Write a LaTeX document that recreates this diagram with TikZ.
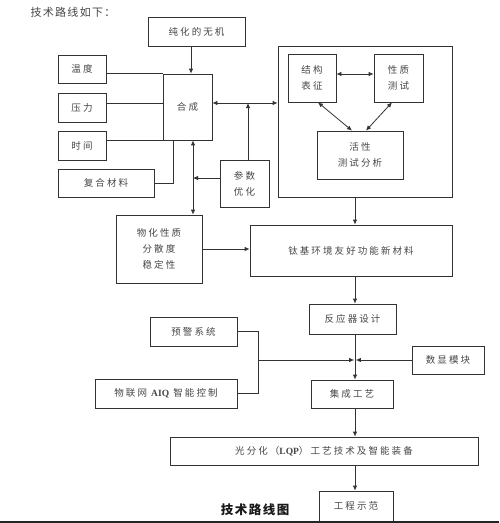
\documentclass[tikz,border=0pt]{standalone}
\usepackage{fontspec}
\setmainfont{Liberation Serif}
\newfontfamily\cjk[LetterSpace=22]{Noto Sans CJK SC}
\newfontfamily\cjktitle[LetterSpace=12]{Noto Sans CJK SC}
\usetikzlibrary{arrows.meta}
\begin{document}
\begin{tikzpicture}[x=1pt,y=-1pt,
  box/.style={draw=black!80, line width=0.8pt, fill=white, inner sep=0pt, align=center,
    text=black!72, font=\cjk\fontsize{9.5}{16}\selectfont},
  ln/.style={draw=black!80, line width=0.8pt},
  arr/.style={ln, -{Latex[length=5pt,width=4.5pt]}},
  arrb/.style={ln, {Latex[length=5pt,width=4.5pt]}-{Latex[length=5pt,width=4.5pt]}}]
\useasboundingbox (0,0) rectangle (499,523);
\fill[white] (0,0) rectangle (499,523);

% title
\node[anchor=west, text=black!72, font=\cjktitle\fontsize{11}{13}\selectfont] (title) at (27,12) {技术路线如下：};

% boxes
\node[box, minimum width=97, minimum height=29] (chun) at (196.5,31.5) {纯化的无机};
\node[box, minimum width=48, minimum height=28] (wendu) at (82,69) {温度};
\node[box, minimum width=48, minimum height=29] (yali) at (82,107.5) {压力};
\node[box, minimum width=48, minimum height=29] (shijian) at (82,145.5) {时间};
\node[box, minimum width=96, minimum height=28] (fuhe) at (106,183) {复合材料};
\node[box, minimum width=49, minimum height=66] (hecheng) at (187.5,107) {合成};
\node[box, minimum width=49, minimum height=47] (canshu) at (244.5,183.5) {参数\\优化};
\node[box, minimum width=174, minimum height=151] (big) at (365,121.5) {};
\node[box, minimum width=48, minimum height=48] (jiegou) at (312,78) {结构\\表征};
\node[box, minimum width=49, minimum height=48] (xingzhi) at (398.5,78) {性质\\测试};
\node[box, minimum width=86, minimum height=48] (huoxing) at (360,155) {活性\\测试分析};
\node[box, minimum width=86, minimum height=68] (wuhua) at (159,249) {物化性质\\分散度\\稳定性};
\node[box, minimum width=202, minimum height=51] (taiji) at (351,250.5) {钛基环境友好功能新材料};
\node[box, minimum width=87, minimum height=30] (fanying) at (352.5,319) {反应器设计};
\node[box, minimum width=87, minimum height=29] (yujing) at (193.5,331.5) {预警系统};
\node[box, minimum width=142, minimum height=29] (wulian) at (166,393.5) {物联网 {\rmfamily\bfseries AIQ} 智能控制};
\node[box, minimum width=72, minimum height=28] (shuxian) at (448,360) {数显模块};
\node[box, minimum width=82, minimum height=28] (jicheng) at (352,394) {集成工艺};
\node[box, minimum width=308, minimum height=28] (guang) at (324,451) {光分化（{\rmfamily\bfseries LQP}）工艺技术及智能装备};
\node[box, minimum width=74, minimum height=30] (gongcheng) at (356,506) {工程示范};

% caption
\node[text=black!90, font=\cjktitle\bfseries\fontsize{12.5}{14}\selectfont] (cap) at (255,510) {技术路线图};

% helper x-coordinates
\coordinate (cx1) at (191,0);
\coordinate (fx) at (173,0);
\coordinate (vx) at (193,0);
\coordinate (px) at (248,0);
\coordinate (mx) at (355,0);
\coordinate (jx) at (258,0);

% upper-left connectors
\draw[arr] (chun.south -| cx1) -- (hecheng.north -| cx1);
\draw[ln] (wendu.east |- hecheng.north west) -- (hecheng.north west);
\draw[ln] ([yshift=4.5pt]yali.east) -- ([yshift=4.5pt]yali.east -| hecheng.west);
\draw[ln] (shijian.east |- hecheng.south west) -- (hecheng.south west);
\draw[ln] (fuhe.east) -| (fx |- hecheng.south);
\draw[arrb] (vx |- hecheng.south) -- (vx |- wuhua.north);
\coordinate (c1) at ([yshift=5.5pt]canshu.west);
\draw[arr] (c1) -- (c1 -| vx);
\draw[arrb] ([yshift=4pt]hecheng.east) -- ([yshift=4pt]hecheng.east -| big.west);
\draw[arr] (px |- canshu.north) -- ([yshift=4pt]hecheng.east -| px);

% inside big box
\draw[arrb] ([yshift=4pt]jiegou.east) -- ([yshift=4pt]xingzhi.west);
\draw[arrb] ([xshift=6pt]jiegou.south) -- ([xshift=-8pt]huoxing.north);
\draw[arrb] ([xshift=-6.5pt]xingzhi.south) -- ([xshift=6pt]huoxing.north);

% main chain
\draw[arr] (big.south -| mx) -- (taiji.north -| mx);
\draw[arr] (wuhua.east) -- (wuhua.east -| taiji.west);
\draw[arr] (taiji.south -| mx) -- (fanying.north -| mx);
\draw[arr] (fanying.south -| mx) -- (jicheng.north -| mx);
\draw[arr] (jicheng.south -| mx) -- (guang.north -| mx);
\draw[arr] (guang.south -| mx) -- (gongcheng.north -| mx);

% lower-left inputs
\draw[ln] (yujing.east) -| (jx |- wulian.east) -- (wulian.east);
\coordinate (mid) at (mx |- shuxian.west);
\draw[arr] (jx |- mid) -- ([xshift=-0.8pt]mid);
\draw[arr] (shuxian.west) -- ([xshift=0.8pt]mid);

% bottom rule
\draw[black!85, line width=1.6pt] (0,521.8) -- (499,521.8);
\end{tikzpicture}
\end{document}
